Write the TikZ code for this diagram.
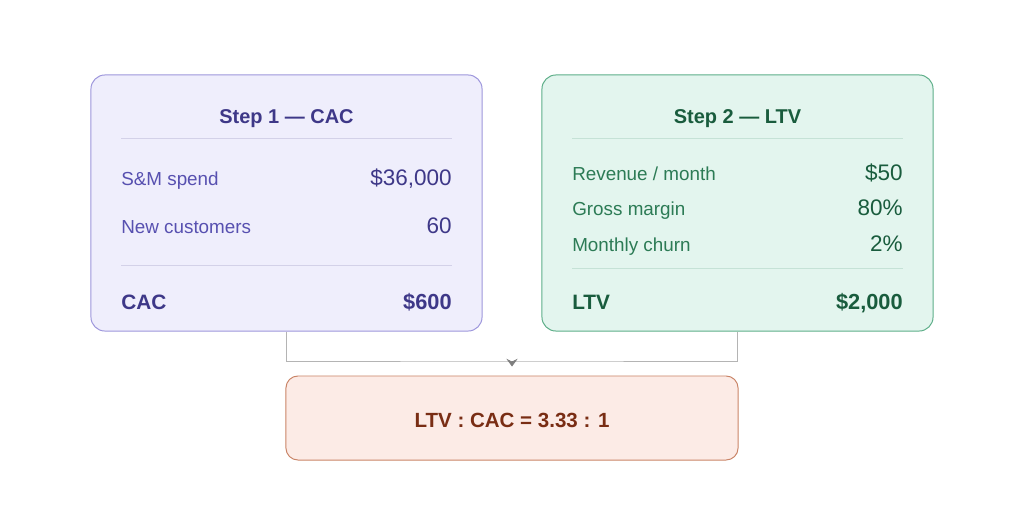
\documentclass[tikz,border=0pt]{standalone}
\usepackage{fontspec}
\setmainfont{Liberation Sans}
\usepackage{xcolor}
\usetikzlibrary{arrows.meta, positioning}

\definecolor{cacfill}{HTML}{EFEEFC}
\definecolor{cacdraw}{HTML}{9D96DC}
\definecolor{cacdark}{HTML}{3E3888}
\definecolor{caclabel}{HTML}{5750B0}
\definecolor{cacsep}{HTML}{D3D1E8}
\definecolor{ltvfill}{HTML}{E3F5EE}
\definecolor{ltvdraw}{HTML}{5DAE88}
\definecolor{ltvdark}{HTML}{195C3D}
\definecolor{ltvlabel}{HTML}{2C7B55}
\definecolor{ltvsep}{HTML}{C5E2D6}
\definecolor{resfill}{HTML}{FCEBE6}
\definecolor{resdraw}{HTML}{C98467}
\definecolor{resdark}{HTML}{792D14}
\definecolor{linkgray}{HTML}{B4B4B4}
\definecolor{tipgray}{HTML}{7E7E7E}

\begin{document}
\begin{tikzpicture}[
    x=0.025cm, y=-0.025cm,
    card/.style={rectangle, rounded corners=0.35cm, line width=0.7pt, minimum width=9.775cm, minimum height=6.4cm},
    resultbox/.style={rectangle, rounded corners=0.3cm, line width=0.7pt, fill=resfill, draw=resdraw, minimum width=11.3cm, minimum height=2.1cm},
    title/.style={anchor=base, inner sep=0pt, font=\fontsize{14.2}{17}\selectfont\bfseries},
    label/.style={anchor=base west, inner sep=0pt, font=\fontsize{13.4}{16}\selectfont},
    value/.style={anchor=base east, inner sep=0pt, font=\fontsize{16}{19}\selectfont},
    totlabel/.style={anchor=base west, inner sep=0pt, font=\fontsize{14.8}{17}\selectfont\bfseries},
    totvalue/.style={anchor=base east, inner sep=0pt, font=\fontsize{15.5}{18}\selectfont\bfseries},
    link/.style={draw=linkgray, line width=0.7pt},
    arrow/.style={-{Stealth[length=5.5pt, width=8pt, inset=2pt]}, draw=tipgray, fill=tipgray, line width=0.4pt, shorten >=0.225cm}
]
\useasboundingbox (0,0) rectangle (1024,521);

% cards
\node[card, fill=cacfill, draw=cacdraw] (cac) at (286.5,203) {};
\node[card, fill=ltvfill, draw=ltvdraw] (ltv) at (737.5,203) {};
\node[resultbox] (res) at (512,418) {};
\node[title, text=resdark, font=\fontsize{14.6}{17}\selectfont\bfseries] (ratio) at (512,427) {LTV : CAC = 3.33 : 1};

% step 1
\node[title, text=cacdark] (cactitle) at (286.5,123) {Step 1 — CAC};
\draw[cacsep, line width=0.7pt] (121,138) -- (452,138);
\node[label, text=caclabel] (spend) at (121,185) {S\&M spend};
\node[value, text=cacdark] (spendval) at (452,185) {\$36,000};
\node[label, text=caclabel] (newcust) at (121,233) {New customers};
\node[value, text=cacdark] (newcustval) at (452,233) {60};
\draw[cacsep, line width=0.7pt] (121,265) -- (452,265);
\node[totlabel, text=cacdark] (cactot) at (121,309) {CAC};
\node[totvalue, text=cacdark] (cactotval) at (452,309) {\$600};

% step 2
\node[title, text=ltvdark] (ltvtitle) at (737.5,123) {Step 2 — LTV};
\draw[ltvsep, line width=0.7pt] (572,138) -- (903,138);
\node[label, text=ltvlabel] (rev) at (572,180) {Revenue / month};
\node[value, text=ltvdark] (revval) at (903,180) {\$50};
\node[label, text=ltvlabel] (margin) at (572,215) {Gross margin};
\node[value, text=ltvdark] (marginval) at (903,215) {80\%};
\node[label, text=ltvlabel] (churn) at (572,251) {Monthly churn};
\node[value, text=ltvdark] (churnval) at (903,251) {2\%};
\draw[ltvsep, line width=0.7pt] (572,268) -- (903,268);
\node[totlabel, text=ltvdark] (ltvtot) at (572,309) {LTV};
\node[totvalue, text=ltvdark] (ltvtotval) at (903,309) {\$2,000};

% connector
\coordinate (merge) at (512,361);
\draw[link] (cac.south) |- (merge) -| (ltv.south);
\draw[arrow] (merge) -- (res.north);
\end{tikzpicture}
\end{document}
